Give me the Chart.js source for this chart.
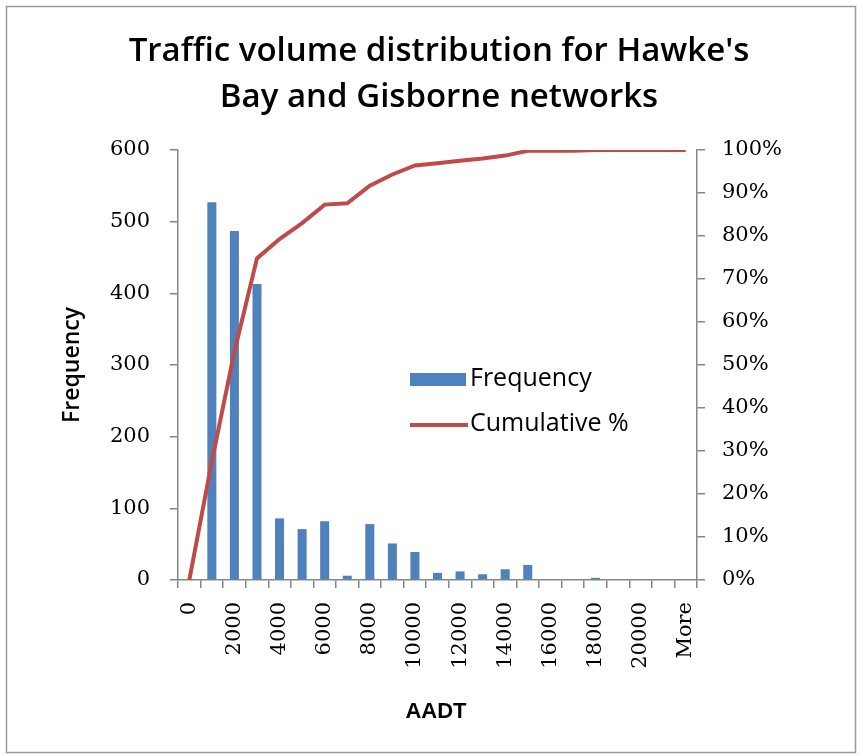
<!DOCTYPE html>
<html>
<head>
<meta charset="utf-8">
<script src="https://cdn.jsdelivr.net/npm/chart.js@4.4.1/dist/chart.umd.min.js"></script>
<style>
    html, body {
        margin: 0;
        padding: 0;
        background: #ffffff;
    }
    #wrap {
        position: relative;
        width: 862px;
        height: 755px;
    }
</style>
</head>
<body>
<div id="wrap"><canvas id="aadt-chart"></canvas></div>
<script>
const aadtBins = [
    '0', '1000', '2000', '3000', '4000', '5000', '6000', '7000',
    '8000', '9000', '10000', '11000', '12000', '13000', '14000', '15000',
    '16000', '17000', '18000', '19000', '20000', '21000', 'More',
];
const frequency = [
    0, 527, 487, 413, 86, 71, 82, 6,
    78, 51, 39, 10, 12, 8, 15, 21,
    0, 0, 3, 0, 0, 0, 0,
];
const cumulativePct = [
    0, 27.6, 53.1, 74.8, 79.3, 83.0, 87.3, 87.6,
    91.7, 94.3, 96.4, 96.9, 97.5, 98.0, 98.7, 99.8,
    99.8, 99.8, 100, 100, 100, 100, 100,
];
const frequencyTicks = [0, 100, 200, 300, 400, 500, 600];
const percentTicks = [0, 10, 20, 30, 40, 50, 60, 70, 80, 90, 100];

const titleLines = ["Traffic volume distribution for Hawke's", 'Bay and Gisborne networks'];
const xTitle = 'AADT';
const yTitle = 'Frequency';

const barBlue = '#4F81BD';
const lineRed = '#BE4B48';
const axisGrey = '#868686';
const tickFont = {family: "'DejaVu Serif', serif", size: 21};

// frame, titles and the in-plot legend
const decorations = {
    id: 'decorations',
    beforeDraw(chart) {
        const ctx = chart.ctx;
        ctx.save();
        ctx.fillStyle = '#ffffff';
        ctx.fillRect(0, 0, chart.width, chart.height);
        ctx.strokeStyle = '#9a9a9a';
        ctx.lineWidth = 1.5;
        ctx.strokeRect(6.5, 6.5, 849, 746);
        ctx.restore();
    },
    afterDraw(chart) {
        const ctx = chart.ctx;
        ctx.save();
        ctx.fillStyle = '#000000';
        ctx.textAlign = 'center';
        ctx.textBaseline = 'middle';
        ctx.font = "600 33px 'Open Sans'";
        ctx.fillText(titleLines[0], 439, 52);
        ctx.fillText(titleLines[1], 439, 98);

        ctx.font = "bold 22px 'Liberation Sans'";
        ctx.fillText(xTitle, 436, 712);

        ctx.save();
        ctx.translate(72, 365);
        ctx.rotate(-Math.PI / 2);
        ctx.font = "600 23px 'Open Sans'";
        ctx.fillText(yTitle, 0, 0);
        ctx.restore();

        const sets = chart.data.datasets;
        const bars = sets.find((d) => d.type !== 'line');
        const line = sets.find((d) => d.type === 'line');
        ctx.textAlign = 'left';
        ctx.font = "25px 'Open Sans'";
        ctx.fillStyle = bars.backgroundColor;
        ctx.fillRect(410, 373, 56, 13);
        ctx.fillStyle = '#000000';
        ctx.fillText(bars.label, 470, 379);

        ctx.strokeStyle = line.borderColor;
        ctx.lineWidth = 4;
        ctx.beginPath();
        ctx.moveTo(410, 425);
        ctx.lineTo(468, 425);
        ctx.stroke();
        ctx.fillText(line.label, 470, 424);
        ctx.restore();
    },
};

function buildChart() {
    const ctx = document.getElementById('aadt-chart').getContext('2d');
    return new Chart(ctx, {
        type: 'bar',
        data: {
            labels: aadtBins,
            datasets: [
                {
                    type: 'line',
                    label: 'Cumulative %',
                    data: cumulativePct,
                    yAxisID: 'y2',
                    borderColor: lineRed,
                    backgroundColor: lineRed,
                    borderWidth: 4,
                    pointRadius: 0,
                    tension: 0,
                    order: 0,
                },
                {
                    type: 'bar',
                    label: 'Frequency',
                    data: frequency,
                    yAxisID: 'y',
                    backgroundColor: barBlue,
                    categoryPercentage: 1,
                    barPercentage: 0.4,
                    order: 1,
                },
            ],
        },
        options: {
            responsive: true,
            maintainAspectRatio: false,
            animation: false,
            layout: {
                padding: {top: 150, left: 0, right: 0, bottom: 0},
            },
            plugins: {
                legend: {display: false},
                title: {display: false},
                tooltip: {enabled: false},
            },
            scales: {
                x: {
                    offset: true,
                    grid: {
                        offset: true,
                        drawOnChartArea: false,
                        drawTicks: true,
                        tickLength: 8,
                        color: axisGrey,
                        lineWidth: 1.5,
                    },
                    border: {color: axisGrey, width: 1.5},
                    ticks: {
                        autoSkip: false,
                        minRotation: 90,
                        maxRotation: 90,
                        padding: 14,
                        color: '#000000',
                        font: tickFont,
                        callback(value, index) {
                            return index % 2 === 0 ? this.getLabelForValue(value) : '';
                        },
                    },
                    afterFit(scale) {
                        scale.height = 175;
                    },
                },
                y: {
                    position: 'left',
                    min: 0,
                    max: 600,
                    afterBuildTicks(scale) {
                        scale.ticks = frequencyTicks.map((v) => ({value: v}));
                    },
                    grid: {
                        drawOnChartArea: false,
                        tickLength: 8,
                        color: axisGrey,
                        lineWidth: 1.5,
                    },
                    border: {color: axisGrey, width: 1.5},
                    ticks: {
                        padding: 20,
                        color: '#000000',
                        font: tickFont,
                    },
                    afterFit(scale) {
                        scale.width = 178;
                    },
                },
                y2: {
                    position: 'right',
                    min: 0,
                    max: 100,
                    afterBuildTicks(scale) {
                        scale.ticks = percentTicks.map((v) => ({value: v}));
                    },
                    grid: {
                        drawOnChartArea: false,
                        tickLength: 8,
                        color: axisGrey,
                        lineWidth: 1.5,
                    },
                    border: {color: axisGrey, width: 1.5},
                    ticks: {
                        padding: 17,
                        color: '#000000',
                        font: tickFont,
                        callback(value) {
                            return value + '%';
                        },
                    },
                    afterFit(scale) {
                        scale.width = 165;
                    },
                },
            },
        },
        plugins: [decorations],
    });
}

document.addEventListener('DOMContentLoaded', buildChart);
</script>
</body>
</html>
